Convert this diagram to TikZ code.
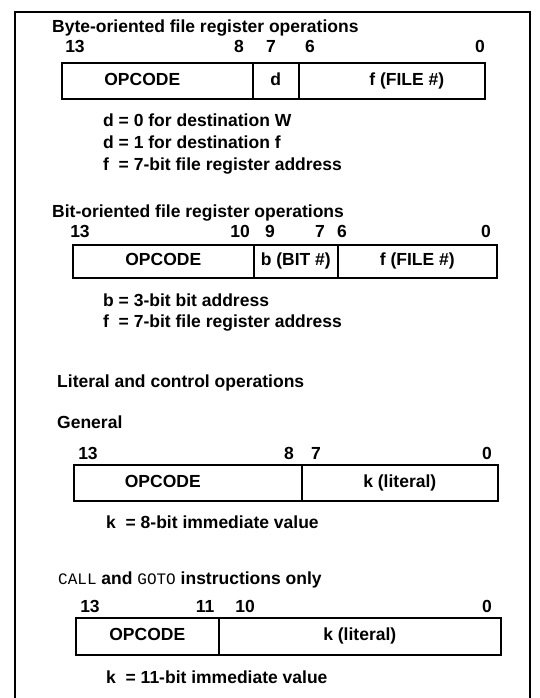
\documentclass[tikz,border=0pt]{standalone}
\usepackage{fontspec}
\setmainfont{Liberation Sans}
\newfontfamily\monofont{Liberation Mono}
\begin{document}
\begin{tikzpicture}[x=1pt,y=-1pt,
	field/.style={draw, line width=1.6pt, anchor=north west, minimum height=36pt, inner sep=0pt, text height=12.5pt, text depth=3.5pt, font=\bfseries\fontsize{17.5}{20}\selectfont},
	bitno/.style={anchor=base, inner sep=0pt, font=\bfseries\fontsize{17.5}{20}\selectfont},
	note/.style={anchor=base west, inner sep=0pt, font=\bfseries\fontsize{17.5}{20}\selectfont}]
	\useasboundingbox (0,0) rectangle (540,698);
	\draw[line width=2.2pt] (15,698) -- (15,12) -- (530,12) -- (530,698);
	\node[note] (byteTitle) at (52,33) {Byte-oriented file register operations};
	\node[bitno] (byteB13) at (75,53) {13};
	\node[bitno] (byteB8) at (239,53) {8};
	\node[bitno] (byteB7) at (271,53) {7};
	\node[bitno] (byteB6) at (310,53) {6};
	\node[bitno] (byteB0) at (480,53) {0};
	\node[field, minimum width=191pt] (byteOp) at (61,62) {OPCODE\hspace*{30pt}};
	\node[field, minimum width=46pt] (byteD) at (252,62) {d};
	\node[field, minimum width=186pt] (byteF) at (298,62) {\hspace*{30pt}f (FILE \#)};
	\node[note] (byteN1) at (103,126) {d = 0 for destination W};
	\node[note] (byteN2) at (103,148) {d = 1 for destination f};
	\node[note] (byteN3) at (103,170) {f\ \ = 7-bit file register address};
	\node[note] (bitTitle) at (52,217) {Bit-oriented file register operations};
	\node[bitno] (bitB13) at (80,237) {13};
	\node[bitno] (bitB10) at (240,237) {10};
	\node[bitno] (bitB9) at (270,237) {9};
	\node[bitno] (bitB7) at (320,237) {7};
	\node[bitno] (bitB6) at (342,237) {6};
	\node[bitno] (bitB0) at (486,237) {0};
	\node[field, minimum width=181pt, minimum height=33pt] (bitOp) at (72,244) {OPCODE};
	\node[field, minimum width=84pt, minimum height=33pt] (bitB) at (253,244) {b (BIT \#)};
	\node[field, minimum width=159pt, minimum height=33pt] (bitF) at (337,244) {f (FILE \#)};
	\node[note] (bitN1) at (103,306) {b = 3-bit bit address};
	\node[note] (bitN2) at (103,327) {f\ \ = 7-bit file register address};
	\node[note] (litTitle) at (57,387) {Literal and control operations};
	\node[note] (genTitle) at (57,428) {General};
	\node[bitno] (genB13) at (88,459) {13};
	\node[bitno] (genB8) at (289,459) {8};
	\node[bitno] (genB7) at (316,459) {7};
	\node[bitno] (genB0) at (487,459) {0};
	\node[field, minimum width=228pt] (genOp) at (73,464) {OPCODE\hspace*{50pt}};
	\node[field, minimum width=196pt] (genK) at (301,464) {k (literal)};
	\node[note] (genN1) at (106,528) {k\ \ = 8-bit immediate value};
	\node[note] (jmpTitle) at (58,584) {{\monofont\mdseries\fontsize{16}{18}\selectfont CALL} and {\monofont\mdseries\fontsize{16}{18}\selectfont GOTO} instructions only};
	\node[bitno] (jmpB13) at (90,612) {13};
	\node[bitno] (jmpB11) at (205,612) {11};
	\node[bitno] (jmpB10) at (245,612) {10};
	\node[bitno] (jmpB0) at (487,612) {0};
	\node[field, minimum width=143pt, minimum height=37pt] (jmpOp) at (75,617) {OPCODE};
	\node[field, minimum width=282pt, minimum height=37pt] (jmpK) at (218,617) {k (literal)};
	\node[note] (jmpN1) at (106,683) {k\ \ = 11-bit immediate value};
\end{tikzpicture}
\end{document}
